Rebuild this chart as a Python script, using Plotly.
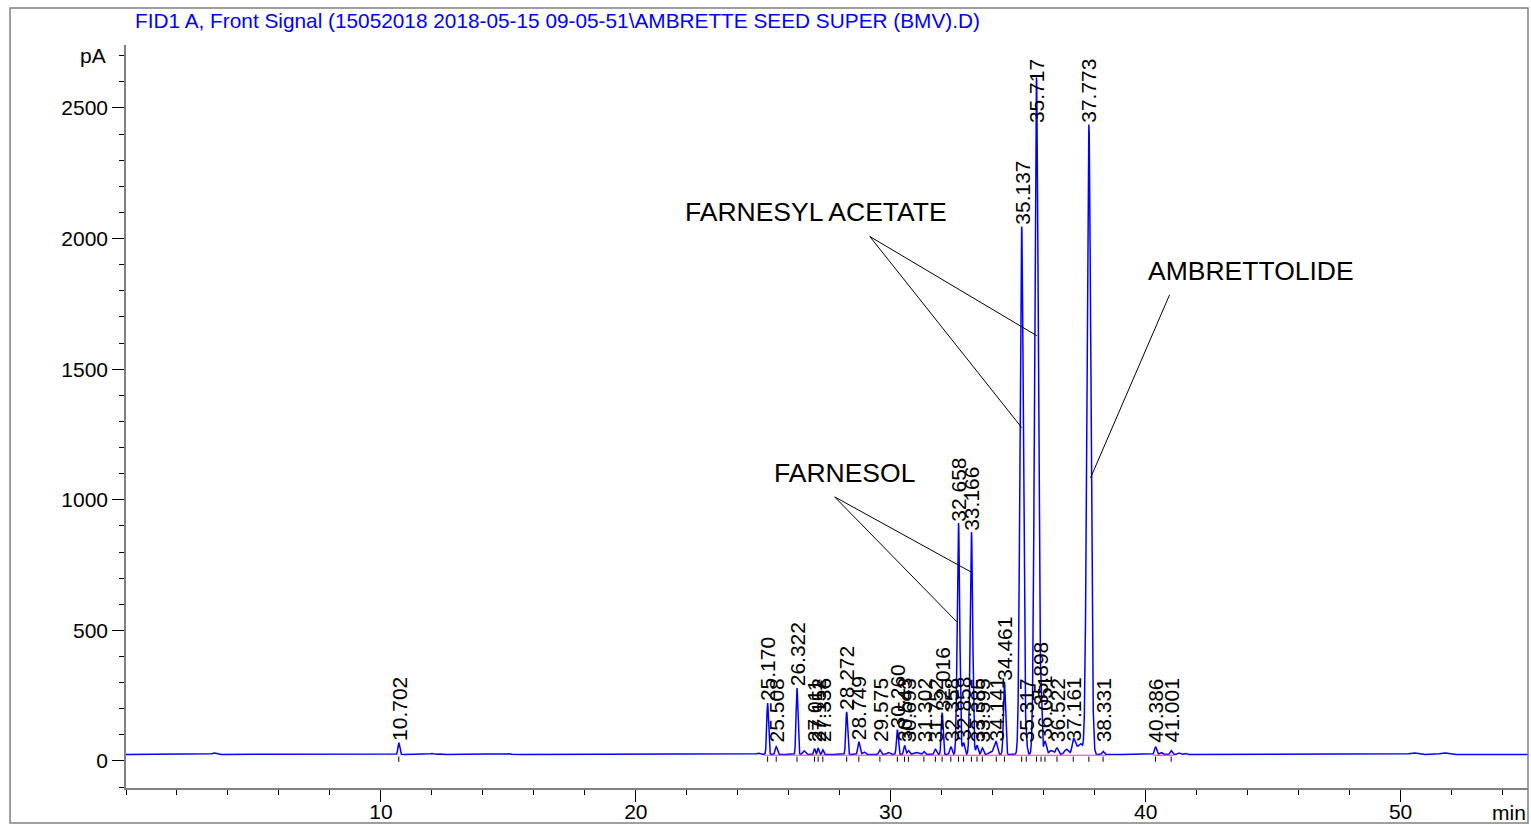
import numpy as np
import plotly.graph_objects as go

# ---------------- data ----------------
peak_rt = [10.702, 25.170, 25.508, 26.322, 27.011, 27.152, 27.336, 28.272, 28.749,
           29.575, 30.260, 30.543, 30.693, 31.302, 31.752, 32.016, 32.358, 32.658,
           32.858, 33.166, 33.385, 33.595, 34.141, 34.461, 35.137, 35.317, 35.717,
           35.898, 36.051, 36.522, 37.161, 37.773, 38.331, 40.386, 41.001]
peak_height = [45, 197, 30, 255, 22, 25, 18, 163, 48,
               18, 95, 35, 15, 12, 20, 160, 30, 887,
               45, 852, 35, 25, 45, 278, 2021, 40, 2592,
               180, 50, 25, 45, 2412, 12, 30, 15]
peak_sigma = [0.035, 0.035, 0.04, 0.035, 0.03, 0.03, 0.03, 0.035, 0.04,
              0.04, 0.035, 0.035, 0.04, 0.04, 0.04, 0.035, 0.04, 0.05,
              0.04, 0.05, 0.04, 0.04, 0.05, 0.04, 0.065, 0.04, 0.07,
              0.035, 0.05, 0.05, 0.05, 0.075, 0.04, 0.04, 0.04]

minor_rt = [3.45, 12.0, 12.3, 15.0, 24.8, 26.6, 28.95, 29.9, 31.0, 33.9, 34.05,
            36.3, 36.9, 37.25, 37.45, 40.6, 41.3, 41.55, 50.5, 51.7]
minor_height = [6, 4, 3, 3, 5, 14, 10, 8, 8, 10, 20,
                15, 20, 30, 40, 8, 6, 5, 6, 6]
minor_sigma = [0.08, 0.06, 0.06, 0.08, 0.06, 0.05, 0.05, 0.06, 0.08, 0.06, 0.05,
               0.08, 0.08, 0.08, 0.08, 0.05, 0.05, 0.05, 0.15, 0.15]

baseline_pa = 25
integ_start = [25.05, 40.30]
integ_end = [38.45, 41.10]

x_ticks = [10, 20, 30, 40, 50]
y_ticks = [0, 500, 1000, 1500, 2000, 2500]
title_text = "FID1 A, Front Signal (15052018 2018-05-15 09-05-51\\AMBRETTE SEED SUPER (BMV).D)"
compound_names = ["FARNESYL ACETATE", "FARNESOL", "AMBRETTOLIDE"]

# ---------------- build the signal from the peak table ----------------
t = np.arange(0, 55.0001, 0.004)
signal = np.full_like(t, float(baseline_pa))
for rt, h, s in zip(peak_rt + minor_rt, peak_height + minor_height, peak_sigma + minor_sigma):
    signal += h * np.exp(-0.5 * ((t - rt) / s) ** 2)

FONT = "Liberation Sans, Arial, sans-serif"
FS = 21
fig = go.Figure()

# integration baselines (magenta)
ix, iy = [], []
for a, b in zip(integ_start, integ_end):
    ix += [a, b, None]
    iy += [baseline_pa - 3, baseline_pa - 3, None]

fig.add_trace(go.Scatter(x=t, y=signal, mode="lines",
                         line=dict(color="#0000FF", width=1.5), hoverinfo="skip"))
fig.add_trace(go.Scatter(x=ix, y=iy, mode="lines",
                         line=dict(color="#FF33CC", width=1.2), hoverinfo="skip"))

# retention-time markers below baseline
mx, my = [], []
for rt in peak_rt:
    mx += [rt, rt, None]
    my += [baseline_pa - 8, baseline_pa - 28, None]
fig.add_trace(go.Scatter(x=mx, y=my, mode="lines",
                         line=dict(color="black", width=1), hoverinfo="skip"))

annotations = []
# peak labels
for rt, h in zip(peak_rt, peak_height):
    top = baseline_pa + h
    ly = min(max(top + 2, 68), 2440)
    annotations.append(dict(x=rt, y=ly, xref="x", yref="y", text=f"{rt:.3f}",
                            textangle=-90, xanchor="center", yanchor="bottom",
                            showarrow=False, borderpad=0,
                            font=dict(family=FONT, size=FS, color="black")))

# compound names
name_pos = [(27.06, 2100), (28.2, 1103), (44.12, 1877)]
for name, (nx, ny) in zip(compound_names, name_pos):
    annotations.append(dict(x=nx, y=ny, xref="x", yref="y", text=name, showarrow=False,
                            xanchor="center", yanchor="middle",
                            font=dict(family=FONT, size=26.5, color="black")))

# title, units
annotations.append(dict(x=0.005, y=1.0336, xref="paper", yref="paper", text=title_text,
                        showarrow=False, xanchor="left", yanchor="middle",
                        font=dict(family=FONT, size=20.8, color="#0000FF")))
annotations.append(dict(x=-0.0128, y=2700, xref="paper", yref="y", text="pA",
                        showarrow=False, xanchor="right", yanchor="middle",
                        font=dict(family=FONT, size=FS, color="black")))
annotations.append(dict(x=1.0, y=-0.0336, xref="paper", yref="paper", text="min",
                        showarrow=False, xanchor="right", yanchor="middle",
                        font=dict(family=FONT, size=FS, color="black")))

shapes = []
# pointer lines
pointer_lines = [((29.18, 2008), (35.14, 1276)), ((29.18, 2008), (35.73, 1628)),
                 ((27.8, 1011), (32.63, 529)), ((27.8, 1011), (33.14, 724)),
                 ((40.94, 1785), (37.84, 1084))]
for (x0, y0), (x1, y1) in pointer_lines:
    shapes.append(dict(type="line", xref="x", yref="y", x0=x0, y0=y0, x1=x1, y1=y1,
                       line=dict(color="black", width=1)))
# outer frame
shapes.append(dict(type="rect", xref="paper", yref="paper",
                   x0=-0.0827, x1=1.0, y0=-0.0471, y1=1.0498,
                   line=dict(color="#808080", width=1.5), fillcolor="rgba(0,0,0,0)",
                   layer="above"))

fig.update_layout(
    width=1531, height=825,
    margin=dict(l=126, r=3, t=45, b=37, autoexpand=False),
    paper_bgcolor="white", plot_bgcolor="white",
    showlegend=False, hovermode=False,
    annotations=annotations, shapes=shapes,
    font=dict(family=FONT, size=FS, color="black"),
)
fig.update_xaxes(range=[0, 55], tickvals=x_ticks, ticks="outside", ticklen=12,
                 tickcolor="black", tickwidth=1, showline=True, linecolor="#808080",
                 linewidth=1.5, showgrid=False, zeroline=False, automargin=False,
                 ticklabelstandoff=-8,
                 tickfont=dict(family=FONT, size=FS, color="black"),
                 minor=dict(dtick=2, tick0=0, ticks="outside", ticklen=5,
                            tickcolor="black", showgrid=False))
fig.update_yaxes(range=[-103.4, 2741], tickvals=y_ticks, ticks="outside", ticklen=12,
                 tickcolor="black", tickwidth=1, showline=True, linecolor="#808080",
                 linewidth=1.5, showgrid=False, zeroline=False, automargin=False,
                 tickfont=dict(family=FONT, size=FS, color="black"),
                 minor=dict(dtick=100, tick0=0, ticks="outside", ticklen=5,
                            tickcolor="black", showgrid=False))

fig.write_html("out.html", config={"displayModeBar": False},
               post_script="document.body.style.margin='0';document.body.style.overflow='hidden';")
